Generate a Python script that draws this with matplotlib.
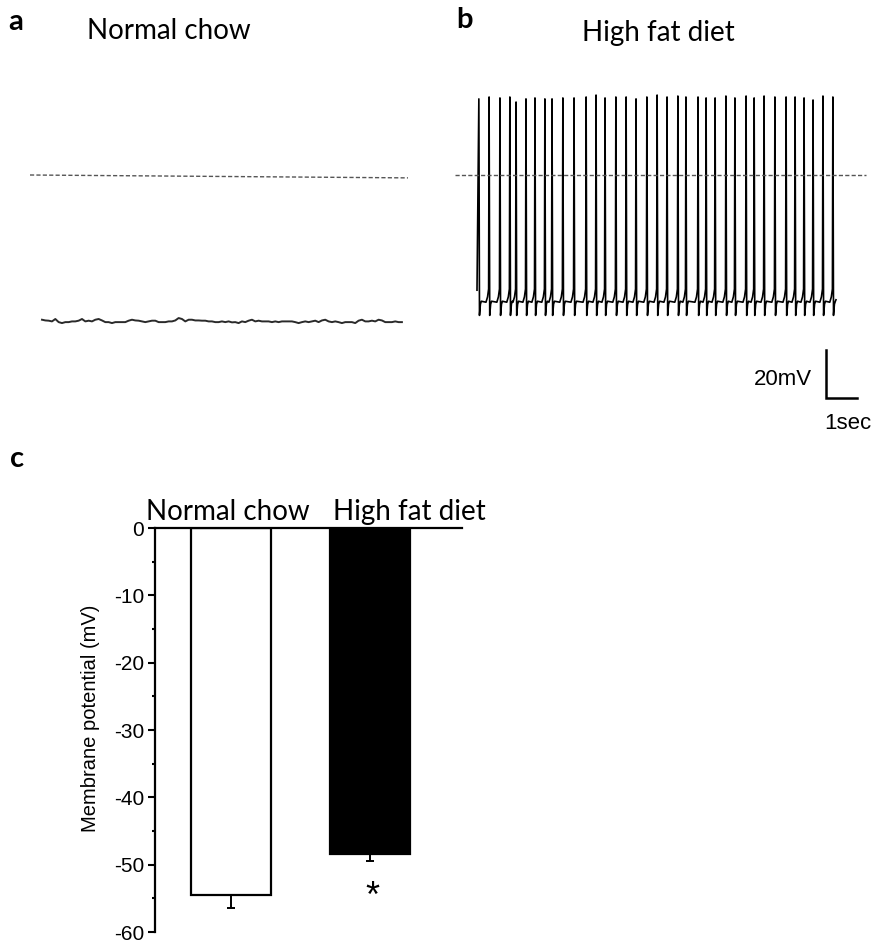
import numpy as np
import matplotlib
matplotlib.use("Agg")
import matplotlib.pyplot as plt

# --- data ---
# panel a: resting trace, normal chow (mV), one reading every ~0.1075 s
nc_trace_dt = 0.1075
nc_trace = [
    -60.3, -60.6, -60.7, -61.0, -60.0, -61.3, -61.7, -61.3, -61.3, -61.0, -61.0, -60.7,
    -60.0, -61.0, -60.7, -61.0, -60.3, -60.0, -60.6, -61.3, -61.3, -61.7, -61.3, -61.3,
    -61.3, -61.3, -60.7, -60.3, -60.6, -60.7, -61.0, -61.3, -61.0, -60.7, -60.7, -61.3,
    -61.3,
    -61.3, -61.0, -61.0, -60.6, -59.6, -60.0, -61.0, -60.3, -60.3, -60.6, -60.6, -60.7,
    -60.7, -61.0, -61.0, -61.3, -61.3, -61.0, -61.3, -61.0, -61.4, -61.3, -61.7, -61.0,
    -61.3, -60.7, -60.3, -61.0, -60.7, -61.0, -61.0, -61.0, -61.3, -61.0, -61.3, -61.0,
    -61.0,
    -61.0, -61.0, -61.3, -61.7, -61.3, -61.0, -61.3, -61.0, -60.7, -61.3, -60.6, -60.3,
    -61.0, -61.3, -61.0, -61.3, -61.7, -61.3, -61.3, -61.3, -61.7, -60.7, -60.3, -61.0,
    -61.0, -60.7, -61.0, -60.3, -60.6, -61.3, -61.3, -61.3, -61.0, -61.3, -61.3,
]

# panel b: firing, high fat diet
spike_times = [
    0.06, 0.39, 0.74, 1.06, 1.26, 1.58, 1.87, 2.19, 2.42, 2.77, 3.13, 3.52, 3.84,
    4.13, 4.48, 4.81, 5.13, 5.48, 5.81, 6.13, 6.48, 6.74, 7.13, 7.39, 7.68, 8.03,
    8.32, 8.68, 8.94, 9.26, 9.61, 9.97, 10.26, 10.55, 10.84, 11.16, 11.48,
]
spike_peaks = [
    31.7, 32.5, 32.1, 32.5, 30.4, 31.7, 32.1, 31.7, 31.7, 32.1, 32.1, 32.5, 33.3,
    32.1, 32.5, 32.5, 31.7, 32.5, 33.3, 32.5, 32.9, 32.5, 32.5, 32.1, 32.1, 32.9,
    32.1, 32.9, 32.1, 32.9, 32.5, 32.5, 32.5, 32.1, 31.25, 32.9, 32.5,
]
hfd_start, hfd_end = (0.0, -48.0), (11.58, -52.0)
# waveform around each spike (offset in s, mV)
after_dt = [0.02, 0.05, 0.08]
after_v = [-58.5, -53.8, -52.6]
pre_dt = [-0.1, -0.05, -0.015]
pre_v = [-53.0, -50.8, -47.5]

# panel c
groups = ["Normal chow", "High fat diet"]
means = [-54.5, -48.4]
sems = [1.9, 1.1]
yticks = [0, -10, -20, -30, -40, -50, -60]
ytick_labels = ["0", "-10", "-20", "-30", "-40", "-50", "-60"]

W, H = 882, 946
fig = plt.figure(figsize=(W / 100, H / 100), dpi=100)


def px_axes(x0, y0, x1, y1):
    return fig.add_axes([x0 / W, 1 - y1 / H, (x1 - x0) / W, (y1 - y0) / H])


def ftext(x, y, s, **kw):
    fig.text(x / W, 1 - y / H, s, **kw)


title_font = ["Lato", "DejaVu Sans"]
arial = ["Liberation Sans", "DejaVu Sans"]

# trace scale: 31 px per s, 2.4 px per mV
ylim_tr = (-(430 - 175) / 2.4, (175 - 80) / 2.4)

# ---- a ----
ax_a = px_axes(30, 80, 408, 430)
ax_a.set_xlim(-12 / 31, 366 / 31)
ax_a.set_ylim(*ylim_tr)
ax_a.axis("off")
t_nc = np.arange(len(nc_trace)) * nc_trace_dt
ax_a.plot(t_nc, nc_trace, color="#2a2a2a", lw=1.4)
ax_a.plot([-12 / 31, 366 / 31], [0, -1.2], color="#555555", lw=1.0, dashes=(3, 1.6))

# ---- b ----
ax_b = px_axes(455, 80, 870, 430)
ax_b.set_xlim(-22 / 31, 393 / 31)
ax_b.set_ylim(*ylim_tr)
ax_b.axis("off")
tt, vv = [hfd_start[0]], [hfd_start[1]]
for i, (ts, pk) in enumerate(zip(spike_times, spike_peaks)):
    if i > 0:
        tt += [ts + d for d in pre_dt]
        vv += pre_v
    tt.append(ts)
    vv.append(pk)
    tt += [ts + d for d in after_dt]
    vv += after_v
tt.append(hfd_end[0])
vv.append(hfd_end[1])
ax_b.plot(tt, vv, color="black", lw=1.2)
ax_b.plot([-22 / 31, 389 / 31], [0, 0], color="#555555", lw=1.0, dashes=(3, 1.6))

# scale bar 20 mV / 1 s
sb_x, sb_y = 11.26, -93.0
ax_b.plot([sb_x, sb_x, sb_x + 1], [sb_y + 20, sb_y, sb_y], color="black", lw=1.8,
          solid_joinstyle="miter", clip_on=False)
ax_b.text(sb_x - 0.45, sb_y + 8, "20mV", ha="right", va="center", fontsize=16, family=arial)
ax_b.text(sb_x + 0.7, sb_y - 10.5, "1sec", ha="center", va="center", fontsize=16, family=arial)

ftext(16, 22, "a", fontsize=21, fontweight="bold", family=title_font, ha="center", va="center")
ftext(169, 31, "Normal chow", fontsize=20, family=title_font, ha="center", va="center")
ftext(465, 20, "b", fontsize=21, fontweight="bold", family=title_font, ha="center", va="center")
ftext(658, 33, "High fat diet", fontsize=20, family=title_font, ha="center", va="center")
ftext(17, 459, "c", fontsize=21, fontweight="bold", family=title_font, ha="center", va="center")

# ---- c ----
ax_c = px_axes(155, 528, 462, 932)
x = np.arange(len(groups))
ax_c.bar(x, means, width=0.576, color=["white", "black"], edgecolor="black", linewidth=1.6)
ax_c.errorbar(x, means, yerr=[sems, [0, 0]], fmt="none", ecolor="black",
              elinewidth=1.4, capsize=3, capthick=1.4)
ax_c.set_xlim(-0.547, 1.662)
ax_c.set_ylim(-60, 0)
for side in ["right", "bottom"]:
    ax_c.spines[side].set_visible(False)
for side in ["left", "top"]:
    ax_c.spines[side].set_linewidth(1.6)
ax_c.set_xticks([])
ax_c.set_yticks(yticks)
ax_c.set_yticklabels(ytick_labels, fontsize=15, family=arial)
ax_c.set_yticks(np.arange(-55, 0, 10), minor=True)
ax_c.tick_params(axis="y", which="major", direction="out", length=5, width=1.5, pad=3)
ax_c.tick_params(axis="y", which="minor", direction="out", length=2.5, width=1.5)
ax_c.set_ylabel("Membrane potential (mV)", fontsize=14.5, family=arial)
ax_c.yaxis.set_label_coords(-0.179, 0.53)
ax_c.text(-0.02, 1.2, groups[0], ha="center", va="baseline", fontsize=20,
          family=title_font, clip_on=False)
ax_c.text(1.28, 1.2, groups[1], ha="center", va="baseline", fontsize=20,
          family=title_font, clip_on=False)
ax_c.text(1.02, -54.9, "*", ha="center", va="center", fontsize=26, family=arial)

fig.savefig("out.png", dpi=100)
